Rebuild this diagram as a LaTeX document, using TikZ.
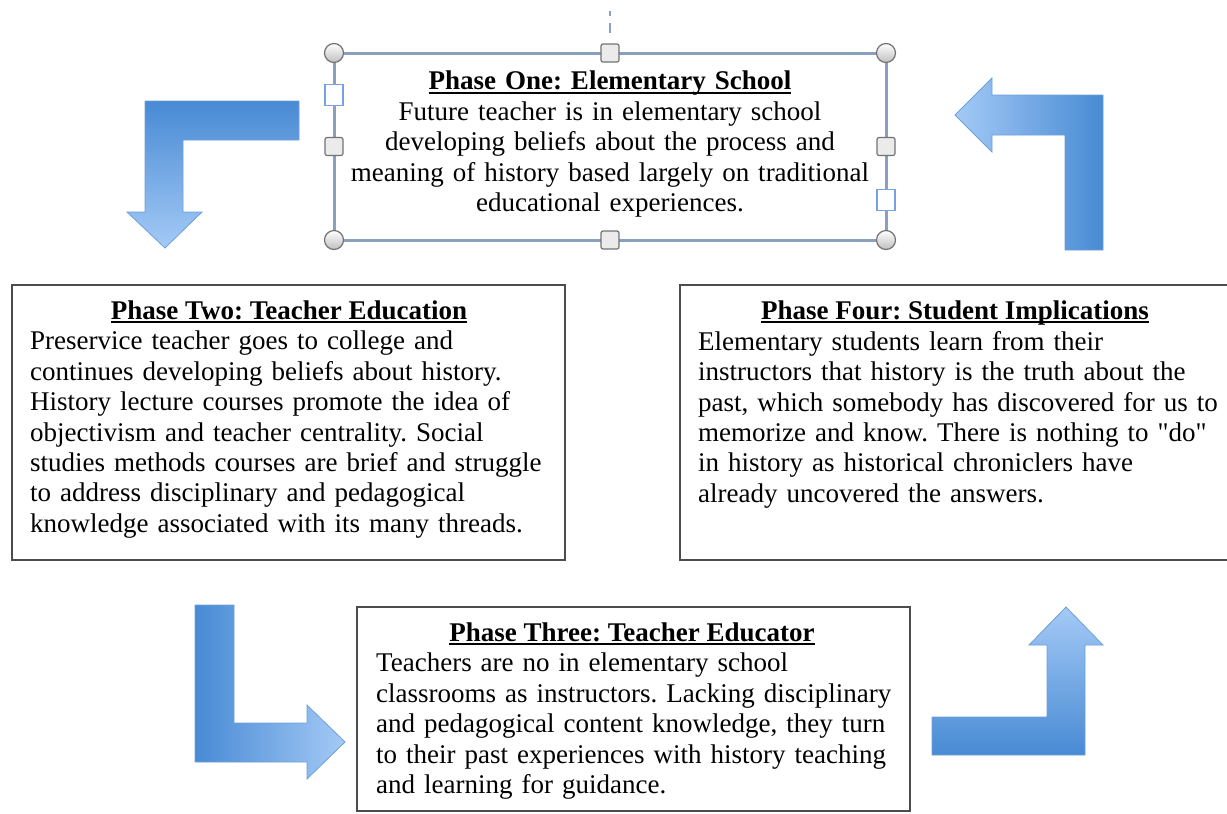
\documentclass[tikz,border=0pt]{standalone}
\usepackage{fontspec}
\setmainfont{Liberation Serif}
\usepackage{tikz}

\definecolor{arrowdark}{RGB}{72,138,212}
\definecolor{arrowlight}{RGB}{164,202,246}
\definecolor{arrowedge}{RGB}{110,160,216}
\definecolor{selline}{RGB}{138,160,190}
\definecolor{handleblue}{RGB}{120,160,230}

% bold underlined heading
\newcommand{\phasehead}[1]{\setbox0=\hbox{\textbf{#1}}\rlap{\rule[-4pt]{\wd0}{1.7pt}}\box0}

\begin{document}
\frenchspacing
\begin{tikzpicture}[x=1pt,y=-1pt]
		\tikzstyle{phasebox}=[rectangle,draw=black!70,line width=2.5pt,
							inner sep=0pt, outer sep=0pt]
		\tikzstyle{selbox}=[rectangle,draw=selline,line width=3pt,
							inner sep=0pt, outer sep=0pt]
		\tikzstyle{phasetitle}=[inner sep=0pt, anchor=base,
							font=\fontsize{27}{30.4}\selectfont]
		\tikzstyle{phasetext}=[inner sep=0pt, anchor=north west, text width=580pt, align=left,
							font=\fontsize{27}{30.4}\selectfont]
		\tikzstyle{bendarrow}=[draw=arrowedge, line width=0.8pt, line join=miter]
		\tikzstyle{cornerhandle}=[circle,draw=black!55,line width=1.2pt,
							minimum size=19pt, inner sep=0pt, top color=white, bottom color=black!25]
		\tikzstyle{sidehandle}=[rectangle,rounded corners=2pt,draw=black!55,line width=1.2pt,
							minimum size=18pt, inner sep=0pt, fill=black!8]
		\tikzstyle{texthandle}=[rectangle,draw=handleblue,line width=1.2pt,fill=white,
							minimum width=18pt, minimum height=21pt, inner sep=0pt]

		\useasboundingbox (0,0) rectangle (1227,814);
		\clip (0,0) rectangle (1227,814);

		% Phase One
		\node[selbox, minimum width=552pt, minimum height=187pt, anchor=north west] (one) at (334,53) {};
		\node[phasetext, anchor=north, text width=540pt, align=center] (onetext) at (610,71)
			{\phasehead{Phase One: Elementary School}\\
			Future teacher is in elementary school\\
			developing beliefs about the process and\\
			meaning of history based largely on traditional\\
			educational experiences.};

		% handles
		\foreach \pos in {north west, north east, south west, south east}
			\node[cornerhandle] (c-\pos) at (one.\pos) {};
		\foreach \pos in {north, south, west, east}
			\node[sidehandle] (s-\pos) at (one.\pos) {};
		\node[texthandle] (tstart) at (334,95) {};
		\node[texthandle] (tend) at (886,200) {};
		\coordinate (rot) at (610,11);
		\draw[selline, line width=2.5pt, dash pattern=on 10pt off 7pt, shorten <=10pt] (s-north.north) -- (rot);

		% Phase Two
		\node[phasebox, minimum width=553pt, minimum height=275pt, anchor=north west] (two) at (12,285) {};
		\node[phasetitle] (twotitle) at (289,319) {\phasehead{Phase Two: Teacher Education}};
		\node[phasetext] (twotext) at (30,331)
			{Preservice teacher goes to college and\\
			continues developing beliefs about history.\\
			History lecture courses promote the idea of\\
			objectivism and teacher centrality. Social\\
			studies methods courses are brief and struggle\\
			to address disciplinary and pedagogical\\
			knowledge associated with its many threads.};

		% Phase Four
		\node[phasebox, minimum width=552pt, minimum height=275pt, anchor=north west] (four) at (680,285) {};
		\node[phasetitle] (fourtitle) at (955,319) {\phasehead{Phase Four: Student Implications}};
		\node[phasetext] (fourtext) at (698,331)
			{Elementary students learn from their\\
			instructors that history is the truth about the\\
			past, which somebody has discovered for us to\\
			memorize and know. There is nothing to \textquotedbl do\textquotedbl\\
			in history as historical chroniclers have\\
			already uncovered the answers.};

		% Phase Three
		\node[phasebox, minimum width=553pt, minimum height=204pt, anchor=north west] (three) at (357,607) {};
		\node[phasetitle] (threetitle) at (632,641) {\phasehead{Phase Three: Teacher Educator}};
		\node[phasetext] (threetext) at (376,653)
			{Teachers are no in elementary school\\
			classrooms as instructors. Lacking disciplinary\\
			and pedagogical content knowledge, they turn\\
			to their past experiences with history teaching\\
			and learning for guidance.};

		% arrows
		\draw[bendarrow, top color=arrowdark, bottom color=arrowlight]
			(299,101) -- (145,101) -- (145,212) -- (127,212) -- (165,248)
			-- (202,212) -- (183,212) -- (183,140) -- (299,140) -- cycle;
		\draw[bendarrow, left color=arrowdark, right color=arrowlight]
			(195,605) -- (234,605) -- (234,723) -- (307,723) -- (307,705)
			-- (345,742) -- (307,779) -- (307,762) -- (195,762) -- cycle;
		\draw[bendarrow, bottom color=arrowdark, top color=arrowlight]
			(932,717) -- (1047,717) -- (1047,645) -- (1029,645) -- (1066,607)
			-- (1103,645) -- (1085,645) -- (1085,755) -- (932,755) -- cycle;
		\draw[bendarrow, right color=arrowdark, left color=arrowlight]
			(1103,250) -- (1103,95) -- (992,95) -- (992,78) -- (955,115)
			-- (992,152) -- (992,135) -- (1065,135) -- (1065,250) -- cycle;

	\end{tikzpicture}
\end{document}
